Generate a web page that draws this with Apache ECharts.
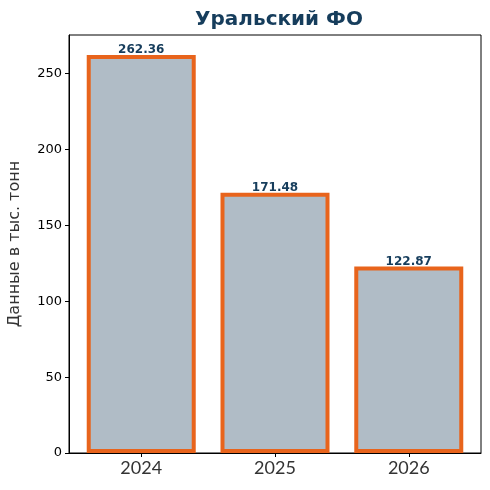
<!DOCTYPE html>
<html><head><meta charset="utf-8">
<script src="https://cdn.jsdelivr.net/npm/echarts@6/dist/echarts.min.js"></script>
<style>html,body{margin:0;padding:0;background:#fff}#c{width:490px;height:490px}</style>
</head><body><div id="c"></div>
<script>
const years = ['2024', '2025', '2026'];
const values = [262.36, 171.48, 122.87];
const titleText = 'Уральский ФО';
const yName = 'Данные в тыс. тонн';

const chart = echarts.init(document.getElementById('c'), null, {renderer: 'canvas'});
chart.setOption({
  animation: false,
  backgroundColor: '#ffffff',
  title: {
    text: titleText, left: 274, top: 5, textAlign: 'center',
    textStyle: {fontFamily: 'DejaVu Sans', fontWeight: 'bold', fontSize: 20, color: '#163d5c'}
  },
  grid: {left: 69, top: 35, width: 412, height: 418, show: true, borderColor: '#000', borderWidth: 1, outerBoundsMode: 'none', containLabel: false},
  xAxis: {
    type: 'value', min: -0.54, max: 2.54,
    splitLine: {show: false},
    axisLine: {show: true, onZero: false, lineStyle: {color: '#000'}},
    axisTick: {show: true, inside: false, length: 4, lineStyle: {color: '#000'}, customValues: [0, 1, 2]},
    axisLabel: {customValues: [0, 1, 2], formatter: v => years[Math.round(v)], fontFamily: 'Lato', fontSize: 18, color: '#333', margin: 6}
  },
  yAxis: {
    type: 'value', min: 0, max: 275.48, interval: 50,
    name: yName, nameLocation: 'middle', nameGap: 46, nameRotate: 90,
    nameTextStyle: {fontFamily: 'DejaVu Sans', fontSize: 16, color: '#333'},
    splitLine: {show: false},
    axisLine: {show: true, onZero: false, lineStyle: {color: '#000'}},
    axisTick: {show: true, inside: false, length: 4, lineStyle: {color: '#000'}},
    axisLabel: {fontFamily: 'DejaVu Sans', fontSize: 13, color: '#000', margin: 7,
      showMaxLabel: false}
  },
  series: [{
    type: 'bar',
    data: values.map((v, i) => [i, v]),
    barWidth: 109,
    itemStyle: {color: '#b0bcc6', borderColor: '#e8641c', borderWidth: 4},
    label: {show: true, position: 'top', distance: -1, formatter: p => p.value[1].toFixed(2),
      fontFamily: 'DejaVu Sans', fontWeight: 'bold', fontSize: 12, color: '#163d5c'}
  }]
});
</script></body></html>
